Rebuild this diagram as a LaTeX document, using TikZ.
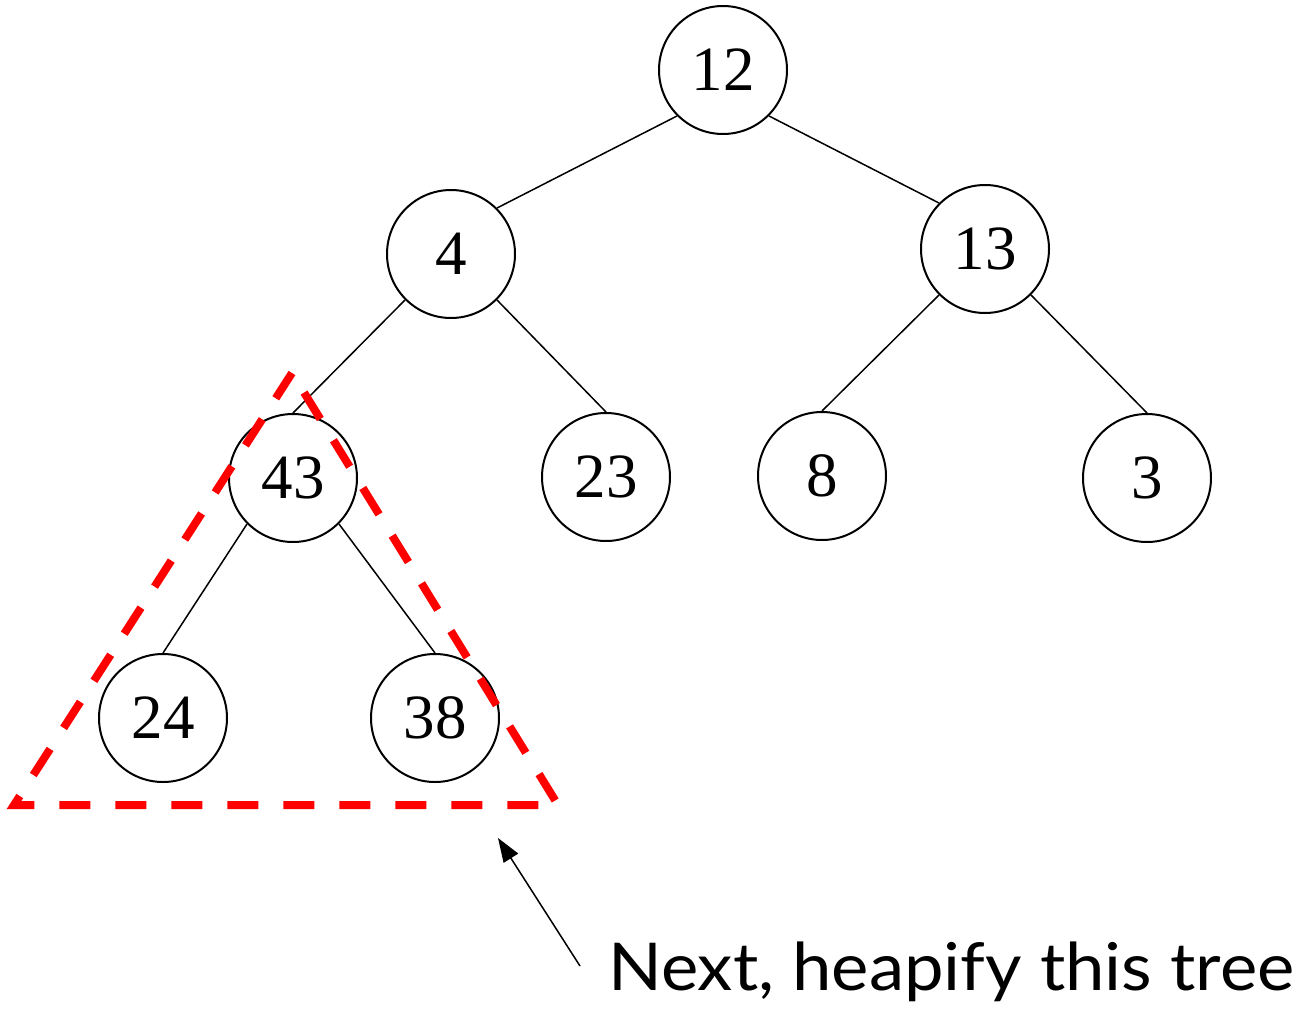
\documentclass[tikz,border=0pt]{standalone}
\usepackage{fontspec}
\setmainfont{Liberation Serif}
\newfontfamily\notefont{Lato}
\usetikzlibrary{arrows.meta}
\begin{document}
\begin{tikzpicture}[x=1pt,y=-1pt,
  heapnode/.style={circle,draw,line width=2pt,minimum size=128pt,inner sep=0pt,
    font=\fontsize{63}{63}\selectfont},
  edge/.style={line width=1.5pt},
  region/.style={draw=red,line width=8pt,dash pattern=on 31pt off 25pt,dash phase=33pt},
  pointer/.style={line width=1.5pt,-{Triangle[length=24pt,width=17pt]}}]
\useasboundingbox (0,0) rectangle (1310,1009);

% heap nodes
\node[heapnode] (n12) at (723,70)  {12};
\node[heapnode] (n4)  at (451,254) {4};
\node[heapnode] (n13) at (985,249) {13};
\node[heapnode] (n43) at (293,478) {43};
\node[heapnode] (n23) at (606,477) {23};
\node[heapnode] (n8)  at (822,476) {8};
\node[heapnode] (n3)  at (1147,478) {3};
\node[heapnode] (n24) at (163,718) {24};
\node[heapnode] (n38) at (435,718) {38};

% tree edges
\draw[edge] (n12.225) -- (n4.45);
\draw[edge] (n12.315) -- (n13.135);
\draw[edge] (n4.225) -- (n43.north);
\draw[edge] (n4.315) -- (n23.north);
\draw[edge] (n13.225) -- (n8.north);
\draw[edge] (n13.315) -- (n3.north);
\draw[edge] (n43.225) -- (n24.north);
\draw[edge] (n43.315) -- (n38.north);

% subtree marker
\coordinate (apex) at (292,373);
\coordinate (bl) at (14,805);
\coordinate (br) at (558,805);
\draw[region] (apex) -- (br) -- (bl) -- cycle;

% annotation
\node[anchor=base west,inner sep=0pt,xscale=1.07,
  font=\notefont\fontsize{66}{66}\selectfont]
  (note) at (608,990) {Next, heapify this tree};
\coordinate (tail) at (580,966);
\coordinate (tip) at (498,838);
\draw[pointer] (tail) -- (tip);
\end{tikzpicture}
\end{document}
